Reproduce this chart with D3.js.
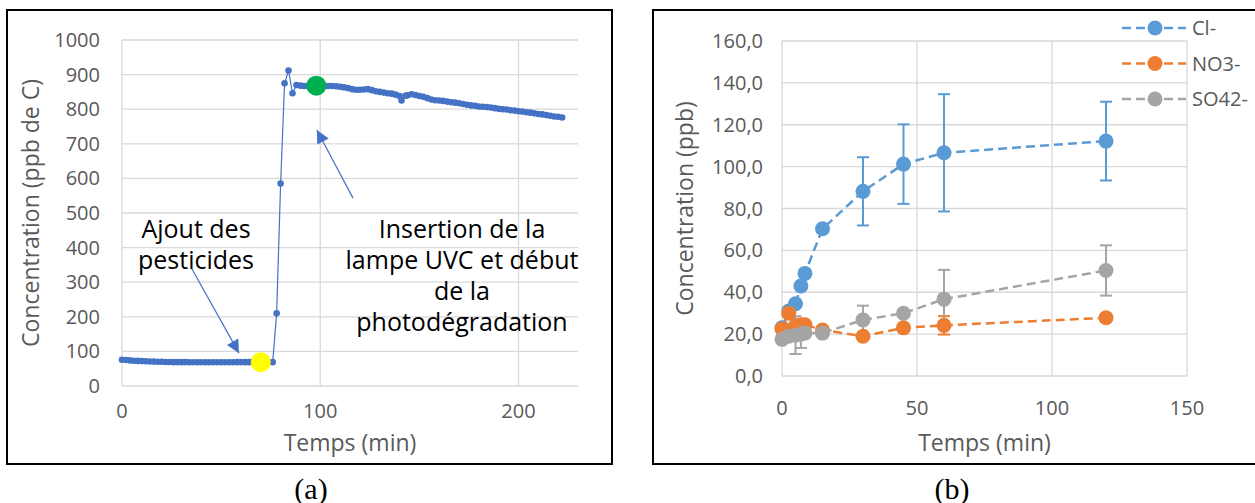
<!DOCTYPE html>
<html>
<head>
<meta charset="utf-8">
<script src="https://cdn.jsdelivr.net/npm/d3@7"></script>
<style>
  body { margin: 0; background: #fff; }
  text { font-family: "Open Sans", sans-serif; }
</style>
</head>
<body>
<svg id="chart" width="1255" height="503"></svg>
<script>
// ---- panel (a): TOC during the run (ppb de C vs min) ----
const timeA = [0, 2, 4, 6, 8, 10, 12, 14, 16, 18, 20, 22, 24, 26, 28, 30, 32, 34, 36, 38, 40,
  42, 44, 46, 48, 50, 52, 54, 56, 58, 60, 62, 64, 66, 68, 70, 72,
  76, 78, 80, 82, 84, 86,
  88, 90, 92, 94, 96, 98, 100, 102, 104, 106, 108, 110, 112, 114, 116, 118, 120, 122, 124,
  126, 128, 130, 132, 134, 136, 138, 140, 141, 143, 144, 146, 148, 150, 152, 154, 156, 158,
  160, 162, 164, 166, 168, 170, 172, 174, 176, 178, 180, 182, 184, 186, 188, 190, 192, 194,
  196, 198, 200, 202, 204, 206, 208, 210, 212, 214, 216, 218, 220, 222];
const tocA = [76, 75, 74, 73, 72.5, 72, 71.5, 71, 70.5, 70, 70, 69.5, 69.5, 69, 69, 69, 69, 68.5, 68.5,
  68.5, 68.5, 68.5, 68.5, 68.5, 68.5, 68.5, 68.5, 68.5, 68.5, 69, 69, 69, 69, 69, 70, 70, 69,
  69, 210, 585, 875, 912, 846,
  870, 868, 867, 867, 867, 867, 867, 867, 867, 867, 866, 865, 863, 861, 858, 856, 856, 857, 858,
  855, 852, 850, 848, 846, 845, 842, 838, 825, 839, 840, 843, 841, 838, 836, 832, 828, 826,
  825, 824, 822, 820, 819, 817, 815, 813, 811, 810, 808, 807, 806, 805, 803, 801, 800, 799,
  797, 796, 794, 793, 791, 790, 788, 786, 785, 783, 781, 779, 778, 776];
const eventTimes = [70, 98];
const eventToc = [69, 868];
const eventColors = ["#FFFF00", "#00B050"];
const xTicksA = [0, 100, 200];
const yTicksA = [0, 100, 200, 300, 400, 500, 600, 700, 800, 900, 1000];

// ---- panel (b): anions (ppb vs min) ----
const timeB = [0, 2.5, 5, 7, 8.5, 15, 30, 45, 60, 120];
const clB = [23, 31, 34.5, 43, 49, 70.3, 88.2, 101.2, 106.6, 112.2];
const clErr = [0, 0, 0, 0, 0, 0, 16.3, 19, 28, 18.8];
const no3B = [22.5, 30, 24, 24.5, 24.5, 22, 19, 23, 24.2, 27.8];
const no3Err = [0, 0, 0, 0, 0, 0, 0, 0, 4.4, 0];
const so4B = [17.5, 19, 19.5, 20, 20.5, 20.5, 26.8, 30, 36.7, 50.4];
const so4Err = [0, 0, 9, 6.6, 0, 0, 6.8, 0, 14, 12];
const seriesNames = ["Cl-", "NO3-", "SO42-"];
const seriesColors = ["#5B9BD5", "#ED7D31", "#A5A5A5"];
const xTicksB = [0, 50, 100, 150];
const yTicksB = [0, 20, 40, 60, 80, 100, 120, 140, 160];

const svg = d3.select("#chart");
const gridCol = "#D9D9D9", axisTxt = "#595959";

// frames around the two figures
svg.append("rect").attr("x", 7).attr("y", 10).attr("width", 605).attr("height", 454)
  .attr("fill", "none").attr("stroke", "#000").attr("stroke-width", 2);
svg.append("rect").attr("x", 653).attr("y", 10).attr("width", 700).attr("height", 454)
  .attr("fill", "none").attr("stroke", "#000").attr("stroke-width", 2);

// ================= (a) =================
const xA = d3.scaleLinear().domain([0, 230]).range([122, 578]);
const yA = d3.scaleLinear().domain([0, 1000]).range([386, 40]);
const gA = svg.append("g");

gA.selectAll(".hgA").data(yTicksA).enter().append("line")
  .attr("x1", xA(0)).attr("x2", xA(230)).attr("y1", d => yA(d)).attr("y2", d => yA(d))
  .attr("stroke", gridCol).attr("stroke-width", 1.3);
gA.selectAll(".vgA").data(xTicksA).enter().append("line")
  .attr("x1", d => xA(d)).attr("x2", d => xA(d)).attr("y1", yA(0)).attr("y2", yA(1000))
  .attr("stroke", gridCol).attr("stroke-width", 1.3);

gA.selectAll(".ytA").data(yTicksA).enter().append("text")
  .attr("x", 100).attr("y", d => yA(d)).attr("dy", "0.35em")
  .attr("text-anchor", "end").attr("font-size", 20).attr("fill", axisTxt).text(d => d);
gA.selectAll(".xtA").data(xTicksA).enter().append("text")
  .attr("x", d => xA(d)).attr("y", 411).attr("dy", "0.35em")
  .attr("text-anchor", "middle").attr("font-size", 20).attr("fill", axisTxt).text(d => d);

gA.append("text").attr("x", (xA(0) + xA(230)) / 2).attr("y", 443).attr("dy", "0.35em")
  .attr("text-anchor", "middle").attr("font-size", 23).attr("fill", axisTxt).text("Temps (min)");
gA.append("text").attr("transform", `translate(31,${(yA(0) + yA(1000)) / 2}) rotate(-90)`)
  .attr("dy", "0.35em").attr("text-anchor", "middle").attr("font-size", 23)
  .attr("fill", axisTxt).text("Concentration (ppb de C)");

const ptsA = timeA.map((t, i) => [t, tocA[i]]);
gA.append("path").datum(ptsA)
  .attr("d", d3.line().x(d => xA(d[0])).y(d => yA(d[1])))
  .attr("fill", "none").attr("stroke", "#4472C4").attr("stroke-width", 1.2);
gA.selectAll(".ptA").data(ptsA).enter().append("circle")
  .attr("cx", d => xA(d[0])).attr("cy", d => yA(d[1])).attr("r", 3.3).attr("fill", "#4472C4");

gA.selectAll(".evt").data(eventTimes).enter().append("circle")
  .attr("cx", d => xA(d)).attr("cy", (d, i) => yA(eventToc[i])).attr("r", 10)
  .attr("fill", (d, i) => eventColors[i]);

// annotations with arrows
const defs = svg.append("defs");
defs.append("marker").attr("id", "arr").attr("viewBox", "0 0 10 10")
  .attr("refX", 10).attr("refY", 5).attr("markerWidth", 15).attr("markerHeight", 13)
  .attr("markerUnits", "userSpaceOnUse").attr("orient", "auto")
  .append("path").attr("d", "M0,0 L10,5 L0,10 z").attr("fill", "#4472C4");

const arrows = [[[35.3, 338], [59, 95]], [[116.5, 543], [98.3, 740]]];
gA.selectAll(".arr").data(arrows).enter().append("line")
  .attr("x1", d => xA(d[0][0])).attr("y1", d => yA(d[0][1]))
  .attr("x2", d => xA(d[1][0])).attr("y2", d => yA(d[1][1]))
  .attr("stroke", "#4472C4").attr("stroke-width", 1.2).attr("marker-end", "url(#arr)");

const noteA = gA.append("text").attr("text-anchor", "middle").attr("font-size", 25).attr("fill", "#000");
["Ajout des", "pesticides"].forEach((s, i) =>
  noteA.append("tspan").attr("x", 196).attr("y", 229 + i * 31).attr("dy", "0.35em").text(s));
const noteB = gA.append("text").attr("text-anchor", "middle").attr("font-size", 25).attr("fill", "#000");
["Insertion de la", "lampe UVC et début", "de la", "photodégradation"].forEach((s, i) =>
  noteB.append("tspan").attr("x", 462).attr("y", 229 + i * 31).attr("dy", "0.35em").text(s));

// ================= (b) =================
const xB = d3.scaleLinear().domain([0, 150]).range([782, 1187]);
const yB = d3.scaleLinear().domain([0, 160]).range([376, 41]);
const gB = svg.append("g");

gB.selectAll(".hgB").data(yTicksB).enter().append("line")
  .attr("x1", xB(0)).attr("x2", xB(150)).attr("y1", d => yB(d)).attr("y2", d => yB(d))
  .attr("stroke", gridCol).attr("stroke-width", 1.3);
gB.selectAll(".vgB").data(xTicksB).enter().append("line")
  .attr("x1", d => xB(d)).attr("x2", d => xB(d)).attr("y1", yB(0)).attr("y2", yB(160))
  .attr("stroke", gridCol).attr("stroke-width", 1.3);

const fmt = d => d3.format(".1f")(d).replace(".", ",");
gB.selectAll(".ytB").data(yTicksB).enter().append("text")
  .attr("x", 763).attr("y", d => yB(d)).attr("dy", "0.35em")
  .attr("text-anchor", "end").attr("font-size", 20).attr("fill", axisTxt).text(fmt);
gB.selectAll(".xtB").data(xTicksB).enter().append("text")
  .attr("x", d => xB(d)).attr("y", 408).attr("dy", "0.35em")
  .attr("text-anchor", "middle").attr("font-size", 20).attr("fill", axisTxt).text(d => d);

gB.append("text").attr("x", (xB(0) + xB(150)) / 2).attr("y", 443).attr("dy", "0.35em")
  .attr("text-anchor", "middle").attr("font-size", 23).attr("fill", axisTxt).text("Temps (min)");
gB.append("text").attr("transform", `translate(685,${(yB(0) + yB(160)) / 2}) rotate(-90)`)
  .attr("dy", "0.35em").attr("text-anchor", "middle").attr("font-size", 23)
  .attr("fill", axisTxt).text("Concentration (ppb)");

const seriesB = [[clB, clErr], [no3B, no3Err], [so4B, so4Err]].map((s, k) => ({
  name: seriesNames[k], color: seriesColors[k],
  pts: timeB.map((t, i) => ({ t: t, v: s[0][i], e: s[1][i] }))
}));

// error bars first, the markers sit on top of them
seriesB.forEach(s => {
  const eb = gB.append("g").attr("stroke", s.color).attr("stroke-width", 2);
  const withErr = s.pts.filter(p => p.e > 0);
  eb.selectAll(".v").data(withErr).enter().append("line")
    .attr("x1", p => xB(p.t)).attr("x2", p => xB(p.t))
    .attr("y1", p => yB(p.v - p.e)).attr("y2", p => yB(p.v + p.e));
  eb.selectAll(".cu").data(withErr).enter().append("line")
    .attr("x1", p => xB(p.t) - 6).attr("x2", p => xB(p.t) + 6)
    .attr("y1", p => yB(p.v + p.e)).attr("y2", p => yB(p.v + p.e));
  eb.selectAll(".cd").data(withErr).enter().append("line")
    .attr("x1", p => xB(p.t) - 6).attr("x2", p => xB(p.t) + 6)
    .attr("y1", p => yB(p.v - p.e)).attr("y2", p => yB(p.v - p.e));
});

seriesB.forEach(s => {
  gB.append("path").datum(s.pts)
    .attr("d", d3.line().x(p => xB(p.t)).y(p => yB(p.v)))
    .attr("fill", "none").attr("stroke", s.color).attr("stroke-width", 2.5)
    .attr("stroke-dasharray", "9,5");
  gB.selectAll(null).data(s.pts).enter().append("circle")
    .attr("cx", p => xB(p.t)).attr("cy", p => yB(p.v)).attr("r", 7.5).attr("fill", s.color);
});

// legend
const leg = gB.selectAll(".leg").data(seriesB).enter().append("g")
  .attr("transform", (d, i) => `translate(1122,${28 + i * 35.5})`);
leg.append("line").attr("x1", 0).attr("x2", 64).attr("stroke", d => d.color)
  .attr("stroke-width", 2.5).attr("stroke-dasharray", "9,5");
leg.append("circle").attr("cx", 33).attr("r", 7.5).attr("fill", d => d.color);
leg.append("text").attr("x", 70).attr("dy", "0.35em").attr("font-size", 20)
  .attr("fill", axisTxt).text(d => d.name);

// captions
svg.append("text").attr("x", 311).attr("y", 488).attr("dy", "0.35em").attr("text-anchor", "middle")
  .style("font-family", "'Liberation Serif', serif").attr("font-size", 30).text("(a)");
svg.append("text").attr("x", 952).attr("y", 488).attr("dy", "0.35em").attr("text-anchor", "middle")
  .style("font-family", "'Liberation Serif', serif").attr("font-size", 30).text("(b)");
</script>
</body>
</html>
